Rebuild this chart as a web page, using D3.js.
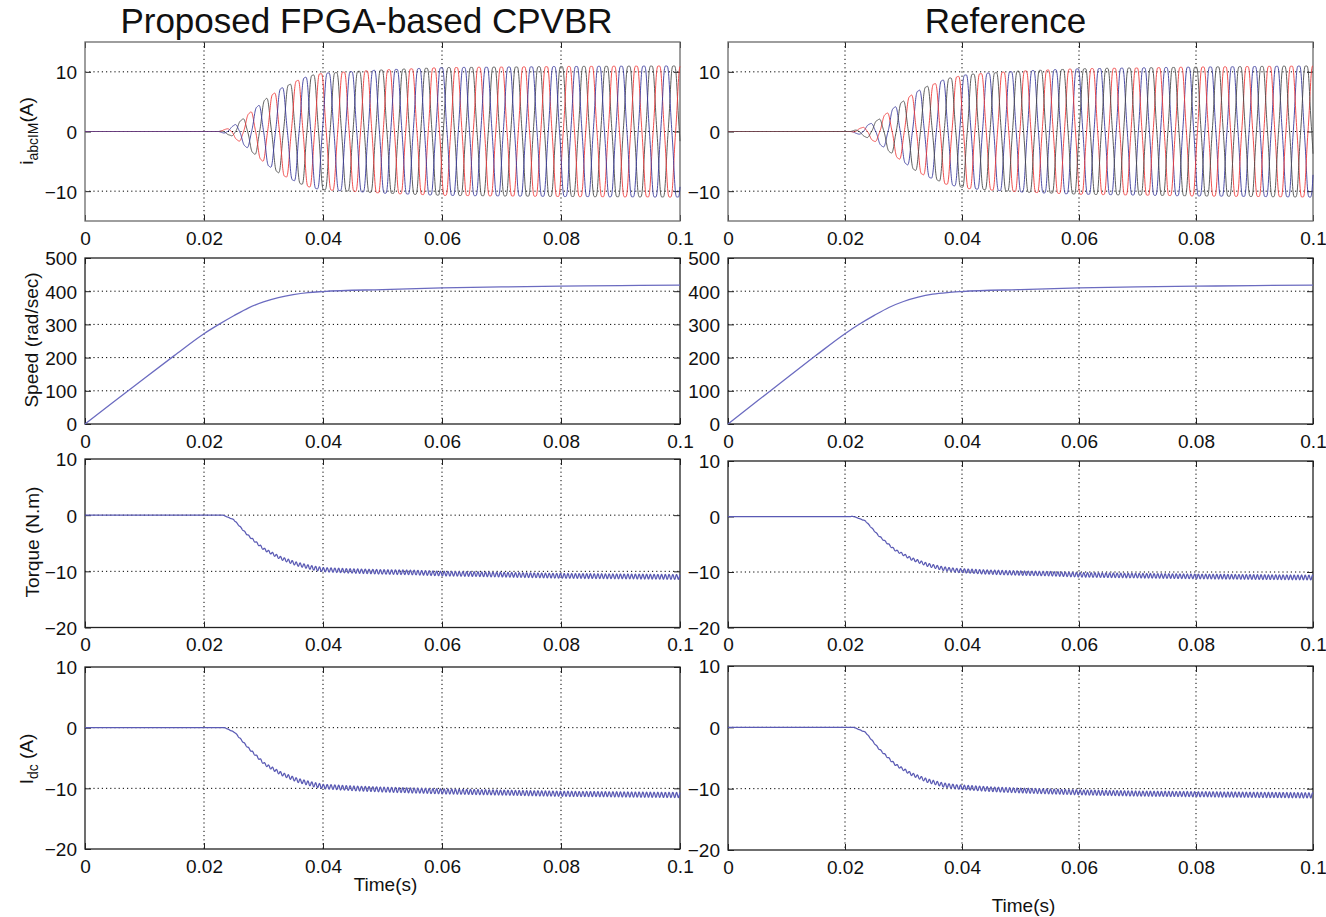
<!DOCTYPE html>
<html>
<head>
<meta charset="utf-8">
<script src="https://cdn.jsdelivr.net/npm/d3@7"></script>
<style>
  body { margin: 0; background: #fff; }
  svg { display: block; }
  text { font-family: "Liberation Sans", Arial, Helvetica, sans-serif; fill: #111; }
</style>
</head>
<body>
<svg id="chart" width="1326" height="917"></svg>
<script>
// ---------------- DATA ----------------
const columnTitles = ["Proposed FPGA-based CPVBR", "Reference"];
const xTicks = [0, 0.02, 0.04, 0.06, 0.08, 0.1];
const xTickLabels = ["0", "0.02", "0.04", "0.06", "0.08", "0.1"];
const currentTicks = [-10, 0, 10];
const speedTicks = [0, 100, 200, 300, 400, 500];
const torqueTicks = [-20, -10, 0, 10];
const idcTicks = [-20, -10, 0, 10];

// Phase-current envelope (peak amplitude, A) vs time
const envTLeft  = [0, 0.0225, 0.0245, 0.0263, 0.0277, 0.029, 0.0305, 0.0318, 0.033, 0.0345, 0.0358, 0.0373, 0.0387, 0.040, 0.050, 0.060, 0.080, 0.100];
const envALeft  = [0, 0,      0.7,    2.0,    3.3,    4.4,   5.8,    6.7,    7.6,   8.3,    9.0,    9.6,    10.0,   10.2,  10.8,  11.2,  11.4,  11.5];
const envTRight = [0, 0.0210, 0.0230, 0.0256, 0.0274, 0.0288, 0.0302, 0.0315, 0.0328, 0.0342, 0.0357, 0.0371, 0.0386, 0.041, 0.050, 0.060, 0.080, 0.100];
const envARight = [0, 0,      0.7,    2.0,    3.4,    4.5,    5.5,    6.5,    7.3,    8.0,    8.5,    9.2,    9.5,    10.0,  10.6,  11.0,  11.3,  11.5];
// Electrical frequency (Hz) vs time, and time of first black-phase peak
const freqT = [0, 0.025, 0.032, 0.040, 0.050, 0.100];
const freqLeft  = [245, 246, 250, 258, 264, 265];
const freqRight = [235, 236, 242, 255, 263, 265];
const blackPeakLeft = 0.0263, blackPeakRight = 0.0256;

// Rotor speed (rad/sec)
const speedT     = [0, 0.005, 0.010, 0.015, 0.020, 0.0225, 0.025, 0.0275, 0.030, 0.0325, 0.035, 0.0375, 0.040, 0.050, 0.060, 0.070, 0.080, 0.090, 0.100];
const speedLeft  = [0, 69,    138,   206,   272,   300,    326,   350,    368,   381,    390,   396,    399,   405,   410,   413,   415,   417,   418];
const speedRight = [0, 69,    138,   206,   272,   301,    327,   351,    369,   382,    391,   396,    399,   405,   410,   413,   415,   417,   418];

// Mean torque (N.m)
const torqueTLeft  = [0, 0.0232, 0.0250, 0.0272, 0.0300, 0.0328, 0.0356, 0.0383, 0.040, 0.044, 0.050, 0.055, 0.060, 0.066, 0.080, 0.100];
const torqueLeft   = [0, 0,      -0.8,   -3.4,   -6.0,   -7.6,   -8.7,   -9.4,   -9.7,  -9.9,  -10.1, -10.2, -10.4, -10.5, -10.8, -11.0];
const torqueTRight = [0, 0.0215, 0.0235, 0.0257, 0.0285, 0.0313, 0.0341, 0.0368, 0.039, 0.044, 0.050, 0.055, 0.060, 0.066, 0.080, 0.100];
const torqueRight  = [0, 0,      -0.8,   -3.4,   -6.0,   -7.6,   -8.7,   -9.4,   -9.7,  -10.0, -10.2, -10.3, -10.5, -10.6, -10.8, -11.0];
// Mean DC current (A)
const idcTLeft  = [0, 0.0235, 0.0252, 0.0275, 0.0302, 0.0330, 0.0358, 0.0385, 0.040, 0.045, 0.050, 0.060, 0.070, 0.080, 0.100];
const idcLeft   = [0, 0,      -0.8,   -3.4,   -6.0,   -7.6,   -8.7,   -9.4,   -9.7,  -10.0, -10.2, -10.5, -10.7, -10.9, -11.1];
const idcTRight = [0, 0.0215, 0.0235, 0.0257, 0.0285, 0.0313, 0.0341, 0.0368, 0.039, 0.045, 0.050, 0.060, 0.070, 0.080, 0.100];
const idcRight  = [0, 0,      -0.8,   -3.4,   -6.0,   -7.6,   -8.7,   -9.4,   -9.7,  -10.1, -10.3, -10.6, -10.8, -10.9, -11.1];
const rippleAmp = 0.36;   // six-pulse ripple amplitude at rated current
const phaseColors = ["#4a4a4a", "#ee3b3b", "#3b3b9c"];

// ---------------- LAYOUT ----------------
const svg = d3.select("#chart");
const cols = [
  { x0: 85,  x1: 680,  title: columnTitles[0], env: [envTLeft, envALeft], freq: freqLeft, peak: blackPeakLeft,
    speed: speedLeft, tq: [torqueTLeft, torqueLeft], idc: [idcTLeft, idcLeft], timeY: 891, order: [0, 1, 2],
    rows: [[42, 221], [258, 424], [459, 627.5], [667, 849]] },
  { x0: 728, x1: 1313, title: columnTitles[1], env: [envTRight, envARight], freq: freqRight, peak: blackPeakRight,
    speed: speedRight, tq: [torqueTRight, torqueRight], idc: [idcTRight, idcRight], timeY: 912, order: [2, 1, 0],
    rows: [[42, 221], [258, 424], [461, 627.5], [666, 850]] }
];

const dt = 0.00004;
const tSamples = d3.range(0, 0.1 + dt / 2, dt);
const fmtTick = v => (v < 0 ? "\u2212" + Math.abs(v) : String(v));

function phaseAngle(col) {
  const fScale = d3.scaleLinear().domain(freqT).range(col.freq);
  const raw = [];
  let acc = 0;
  tSamples.forEach((t, i) => { if (i > 0) acc += 2 * Math.PI * fScale(t) * dt; raw.push(acc); });
  const ip = Math.round(col.peak / dt);
  const off = Math.PI / 2 - raw[ip];
  return raw.map(r => r + off);
}

function drawPanel(col, row, yDomain, yTicks, boxColor) {
  const [top, bottom] = col.rows[row];
  const x = d3.scaleLinear().domain([0, 0.1]).range([col.x0, col.x1]);
  const y = d3.scaleLinear().domain(yDomain).range([bottom, top]);
  const g = svg.append("g");
  // grid
  g.selectAll(".vg").data(xTicks.filter(v => v > 0 && v < 0.1)).enter().append("line")
    .attr("x1", d => x(d)).attr("x2", d => x(d)).attr("y1", top).attr("y2", bottom)
    .attr("stroke", "#000").attr("stroke-width", 1).attr("stroke-dasharray", "1.2,3");
  g.selectAll(".hg").data(yTicks.filter(v => v > yDomain[0] && v < yDomain[1])).enter().append("line")
    .attr("x1", col.x0).attr("x2", col.x1).attr("y1", d => y(d)).attr("y2", d => y(d))
    .attr("stroke", "#000").attr("stroke-width", 1).attr("stroke-dasharray", "1.2,3");
  // axes with inward ticks
  const xb = d3.axisBottom(x).tickValues(xTicks).tickSize(-6).tickFormat((d, i) => xTickLabels[i]).tickPadding(10);
  const gx = g.append("g").attr("transform", `translate(0,${bottom})`).call(xb);
  const xt = d3.axisTop(x).tickValues(xTicks).tickSize(-6).tickFormat("");
  g.append("g").attr("transform", `translate(0,${top})`).call(xt);
  const yl = d3.axisLeft(y).tickValues(yTicks).tickSize(-6).tickFormat(fmtTick).tickPadding(8);
  const gy = g.append("g").attr("transform", `translate(${col.x0},0)`).call(yl);
  const yr = d3.axisRight(y).tickValues(yTicks).tickSize(-6).tickFormat("");
  g.append("g").attr("transform", `translate(${col.x1},0)`).call(yr);
  g.selectAll(".domain").remove();
  g.selectAll(".tick line").attr("stroke", "#222");
  g.selectAll(".tick text").attr("font-size", 19).attr("fill", "#111")
    .style("font-family", '"Liberation Sans", Arial, sans-serif');
  gx.selectAll(".tick text").attr("dy", "0.72em");
  gy.selectAll(".tick text").attr("dy", "0.36em");
  // box
  g.append("rect").attr("x", col.x0).attr("y", top).attr("width", col.x1 - col.x0).attr("height", bottom - top)
    .attr("fill", "none").attr("stroke", boxColor).attr("stroke-width", 1.3);
  const plot = svg.append("g");
  return { x, y, plot };
}

cols.forEach((col, ci) => {
  // title
  svg.append("text").attr("x", (col.x0 + col.x1) / 2 + (ci === 0 ? -16 : -15)).attr("y", 33)
    .attr("text-anchor", "middle").attr("font-size", 35).text(col.title);

  const theta = phaseAngle(col);
  const envScale = d3.scaleLinear().domain(col.env[0]).range(col.env[1]);

  // ---- currents ----
  const p1 = drawPanel(col, 0, [-15, 15], currentTicks, "#6a6a6a");
  col.order.forEach(k => {
    const shift = k * 2 * Math.PI / 3;
    const pts = tSamples.map((t, i) => {
      const a = envScale(t);
      const th = theta[i] - shift;
      return [t, a * Math.sin(th) - 0.045 * a * Math.sin(5 * th)];
    });
    p1.plot.append("path").datum(pts)
      .attr("fill", "none").attr("stroke", phaseColors[k]).attr("stroke-width", 1)
      .attr("stroke-opacity", 0.9)
      .attr("d", d3.line().x(d => p1.x(d[0])).y(d => p1.y(d[1])));
  });

  // ---- speed ----
  const p2 = drawPanel(col, 1, [0, 500], speedTicks, "#222");
  p2.plot.append("path").datum(speedT.map((t, i) => [t, col.speed[i]]))
    .attr("fill", "none").attr("stroke", "#6b6bc0").attr("stroke-width", 1.3)
    .attr("d", d3.line().curve(d3.curveMonotoneX).x(d => p2.x(d[0])).y(d => p2.y(d[1])));

  // ---- torque & Idc ----
  const rippled = (meanT, meanV) => {
    const m = d3.scaleLinear().domain(meanT).range(meanV);
    return tSamples.map((t, i) => {
      const a = envScale(t) / 10;
      return [t, m(t) + rippleAmp * a * Math.sin(6 * theta[i])];
    });
  };
  const p3 = drawPanel(col, 2, [-20, 10], torqueTicks, "#222");
  p3.plot.append("path").datum(rippled(col.tq[0], col.tq[1]))
    .attr("fill", "none").attr("stroke", "#5a5ab4").attr("stroke-width", 1.25)
    .attr("d", d3.line().x(d => p3.x(d[0])).y(d => p3.y(d[1])));

  const p4 = drawPanel(col, 3, [-20, 10], idcTicks, "#222");
  p4.plot.append("path").datum(rippled(col.idc[0], col.idc[1]))
    .attr("fill", "none").attr("stroke", "#5a5ab4").attr("stroke-width", 1.25)
    .attr("d", d3.line().x(d => p4.x(d[0])).y(d => p4.y(d[1])));

  // x label
  svg.append("text").attr("x", (col.x0 + col.x1) / 2 + 3).attr("y", col.timeY)
    .attr("text-anchor", "middle").attr("font-size", 19).text("Time(s)");
});

// ---- y-axis labels (left column only) ----
function yLabel(cx, cy, main, sub, tail) {
  const t = svg.append("text").attr("transform", `translate(${cx},${cy}) rotate(-90)`)
    .attr("text-anchor", "middle").attr("font-size", 19);
  t.append("tspan").text(main);
  if (sub) {
    t.append("tspan").attr("font-size", 14).attr("dy", 5).text(sub);
    t.append("tspan").attr("dy", -5).text(tail);
  }
  return t;
}
yLabel(33, 131, "i", "abcIM", "(A)");
yLabel(38, 340, "Speed (rad/sec)");
yLabel(39, 542, "Torque (N.m)");
yLabel(33, 759, "I", "dc", " (A)");
</script>
</body>
</html>
